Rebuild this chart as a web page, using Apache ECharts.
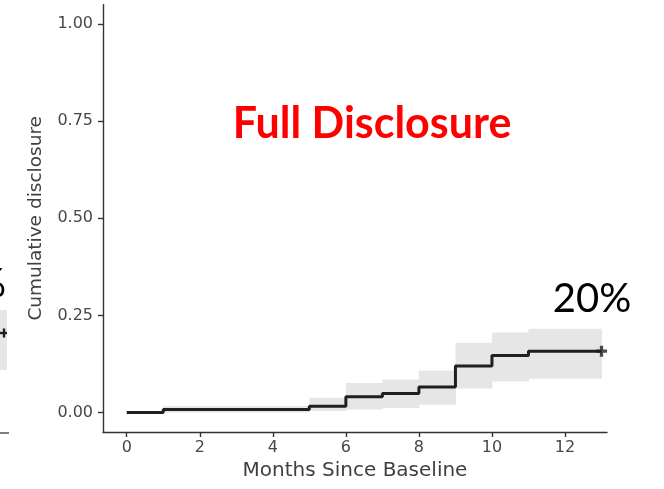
<!DOCTYPE html>
<html>
<head>
<meta charset="utf-8">
<title>Full Disclosure</title>
<script src="https://cdn.jsdelivr.net/npm/echarts@6/dist/echarts.min.js"></script>
<style>
  html, body { margin: 0; padding: 0; background: #ffffff; }
  #chart { width: 664px; height: 489px; }
</style>
</head>
<body>
<div id="chart"></div>
<script>
// Kaplan-Meier style cumulative disclosure curve (step function) with its confidence band
const months     = [0, 1, 5, 6, 7, 8, 9, 10, 11, 13];
const cumulative = [0, 0.008, 0.016, 0.041, 0.049, 0.066, 0.120, 0.147, 0.158, 0.158];
const lowerCI    = [0, 0, 0.004, 0.008, 0.012, 0.020, 0.062, 0.080, 0.087, 0.087];
const upperCI    = [0, 0.017, 0.038, 0.076, 0.085, 0.108, 0.180, 0.206, 0.216, 0.216];

// last observation, marked as censored with a "+"
const censorMonth = 13;
const censorValue = 0.158;

const xTicks = [0, 2, 4, 6, 8, 10, 12];
const yTicks = [0, 0.25, 0.5, 0.75, 1.0];

const headline = 'Full Disclosure';
const endLabel = '20%';
const xTitle = 'Months Since Baseline';
const yTitle = 'Cumulative disclosure';

const pairs = (xs, ys) => xs.map((x, i) => [x, ys[i]]);

// one band segment per step: [from, to, lower, upper]
const bandSegments = months.slice(0, -1).map((m, i) => [m, months[i + 1], lowerCI[i], upperCI[i]]);

const plusPath = 'path://M3.5,0 L6.5,0 L6.5,3.5 L10,3.5 L10,6.5 L6.5,6.5 L6.5,10 L3.5,10 L3.5,6.5 L0,6.5 L0,3.5 L3.5,3.5 Z';

const chart = echarts.init(document.getElementById('chart'), null, { renderer: 'canvas' });

const tickLabelStyle = { color: '#474747', fontFamily: 'DejaVu Sans', fontSize: 16 };
const axisLineStyle = { color: '#333333', width: 1.4 };

chart.setOption({
  animation: false,
  backgroundColor: '#ffffff',
  grid: { left: 103, right: 57, top: 4.6, bottom: 57, containLabel: false },
  xAxis: {
    type: 'value', min: -0.65, max: 13.15,
    name: xTitle, nameLocation: 'middle', nameGap: 27,
    nameTextStyle: { color: '#404040', fontFamily: 'DejaVu Sans', fontSize: 20 },
    splitLine: { show: false },
    axisLine: { show: true, onZero: false, lineStyle: axisLineStyle },
    axisTick: { show: true, length: 5, customValues: xTicks, lineStyle: axisLineStyle },
    axisLabel: { customValues: xTicks, margin: 8, ...tickLabelStyle, formatter: v => String(v) }
  },
  yAxis: {
    type: 'value', min: -0.05, max: 1.05,
    name: yTitle, nameLocation: 'middle', nameGap: 57, nameRotate: 90,
    nameTextStyle: { color: '#404040', fontFamily: 'DejaVu Sans', fontSize: 18.5 },
    splitLine: { show: false },
    axisLine: { show: true, onZero: false, lineStyle: axisLineStyle },
    axisTick: { show: true, length: 5, customValues: yTicks, lineStyle: axisLineStyle },
    axisLabel: { customValues: yTicks, margin: 10, ...tickLabelStyle, formatter: v => v.toFixed(2) }
  },
  series: [
    {
      name: 'band', type: 'custom', silent: true,
      data: bandSegments,
      renderItem: (params, api) => {
        const p0 = api.coord([api.value(0), api.value(3)]);
        const p1 = api.coord([api.value(1), api.value(2)]);
        return {
          type: 'rect',
          shape: { x: p0[0], y: p0[1], width: p1[0] - p0[0] + 0.5, height: p1[1] - p0[1] },
          style: { fill: '#e6e6e6' }
        };
      }
    },
    {
      name: 'cumulative', type: 'line', step: 'end',
      data: pairs(months, cumulative), symbol: 'none',
      lineStyle: { color: '#1f1f1f', width: 3 }
    },
    {
      name: 'censored', type: 'scatter',
      data: [[censorMonth, censorValue]],
      symbol: plusPath, symbolSize: 11,
      itemStyle: { color: '#1f1f1f' }
    }
  ],
  graphic: [
    {
      type: 'text', x: 372, y: 124,
      style: { text: headline, fill: '#ff0000', font: 'bold 43px Lato', align: 'center', verticalAlign: 'middle' }
    },
    {
      type: 'text', x: 592, y: 299,
      style: { text: endLabel, fill: '#000000', font: '40px Lato', align: 'center', verticalAlign: 'middle' }
    },
    // edge of the neighbouring panel
    {
      type: 'text', x: 6, y: 284,
      style: { text: '%', fill: '#000000', font: '40px Lato', align: 'right', verticalAlign: 'middle' }
    },
    { type: 'rect', shape: { x: 0, y: 310, width: 7, height: 60 }, style: { fill: '#e6e6e6' } },
    { type: 'line', shape: { x1: 0, y1: 333, x2: 7, y2: 333 }, style: { stroke: '#1f1f1f', lineWidth: 2.4 } },
    { type: 'line', shape: { x1: 4, y1: 328.5, x2: 4, y2: 337.5 }, style: { stroke: '#1f1f1f', lineWidth: 2.4 } },
    { type: 'line', shape: { x1: 0, y1: 433, x2: 9, y2: 433 }, style: { stroke: '#555555', lineWidth: 1.5 } }
  ]
});
</script>
</body>
</html>
